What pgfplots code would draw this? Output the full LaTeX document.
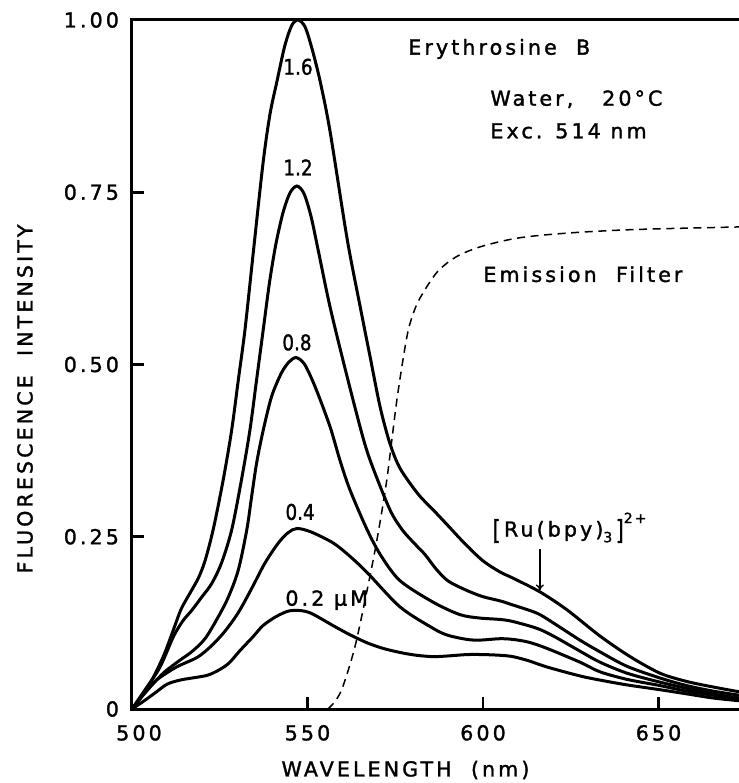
\documentclass[border=0pt]{standalone}
\usepackage{fontspec}
\setmainfont{DejaVu Sans}[LetterSpace=15, FakeBold=1.5]
\newfontfamily\numfont{DejaVu Sans}[LetterSpace=0, FakeBold=1.5]
\usepackage{pgfplots}
\pgfplotsset{compat=1.18}
\usetikzlibrary{arrows.meta}
\begin{document}
\begin{tikzpicture}[font=\fontsize{10.3pt}{12pt}\selectfont,
  clab/.style={font=\fontsize{10.8pt}{12pt}\numfont, inner sep=0pt}]
\useasboundingbox (-66pt,-37pt) rectangle (303.5pt,354.5pt);
\begin{axis}[
  at={(0,0)}, anchor=south west,
  scale only axis, width=308.9pt, height=344.5pt,
  xmin=500, xmax=676, ymin=0, ymax=1,
  axis line style={line width=1.5pt},
  tick style={line width=1.3pt, black},
  major tick length=6pt, tick align=inside, tick pos=left,
  xtick={500,550,600,650}, xticklabels={\hspace*{7pt}500,550,600,650},
  ytick={0,0.25,0.5,0.75,1}, yticklabels={0,0.25,0.50,0.75,1.00},
  yticklabel style={anchor=east, xshift=-3pt},
  xticklabel style={anchor=north, yshift=-4.5pt},
  xlabel={WAVELENGTH\ \ (nm)},
  ylabel={FLUORESCENCE\ \ INTENSITY},
  xlabel style={at={(axis description cs:0.4427,-0.0885)}, anchor=center},
  ylabel style={at={(axis description cs:-0.1732,0.45)}, anchor=center, rotate=0},
  curve/.style={black, line width=1.5pt, smooth, tension=0.5, mark=none, solid},
]
% 1.6 uM
\addplot[curve] coordinates {
(500,0) (505.1,0.037) (508.9,0.076) (511.8,0.115) (514,0.145) (516.5,0.168)
(518.9,0.190) (520.8,0.215) (523.2,0.262) (526,0.333) (528.4,0.405) (530.3,0.478)
(532.2,0.551) (534.5,0.660) (537.3,0.791) (539.3,0.863) (541.3,0.911) (543.5,0.962)
(545.5,0.992) (547.3,1.0) (549.3,0.99) (551.3,0.958) (553.6,0.911) (556.4,0.839)
(561.3,0.682) (565,0.584) (567.8,0.512) (570.7,0.438) (573.5,0.385) (576.4,0.349)
(581.5,0.312) (586,0.288) (590.6,0.263) (595,0.239) (600,0.215) (604.8,0.199)
(608.5,0.190) (616.2,0.170) (623.9,0.144) (633.3,0.106) (641.9,0.076) (650.4,0.052)
(658,0.040) (665.5,0.032) (673,0.025) (676,0.023)};
% 1.2 uM
\addplot[curve] coordinates {
(500,0) (504,0.030) (508,0.061) (511.8,0.105) (514.5,0.128) (517,0.143)
(519.8,0.162) (522.7,0.182) (525.5,0.212) (528.4,0.260) (531.2,0.333) (533.6,0.405)
(535.5,0.478) (537.4,0.551) (539.2,0.620) (541,0.675) (543,0.720) (545,0.749)
(547,0.759) (549,0.748) (551,0.715) (553,0.667) (556.4,0.584) (561,0.488)
(565.8,0.394) (568.5,0.352) (573.5,0.289) (577,0.260) (580.5,0.240) (583.5,0.224)
(586.5,0.204) (590,0.186) (595.4,0.172) (600,0.163) (604.8,0.157) (608.5,0.151)
(615.4,0.139) (620,0.125) (627.6,0.100) (633.3,0.083) (641,0.062) (650.4,0.045)
(658,0.034) (665.5,0.026) (673,0.020) (676,0.018)};
% 0.8 uM
\addplot[curve] coordinates {
(500,0) (504,0.025) (508.9,0.052) (513.7,0.071) (517,0.083) (520.8,0.102)
(524.6,0.134) (527.5,0.163) (530.3,0.202) (532.7,0.260) (534.1,0.309) (535.5,0.357)
(537.4,0.405) (539.8,0.454) (542.6,0.488) (544.8,0.504) (546.8,0.510) (549.2,0.500)
(552.3,0.466) (556.4,0.410) (559.3,0.360) (562.1,0.318) (567,0.260) (571,0.222)
(576.4,0.186) (585.8,0.155) (593.4,0.137) (599.1,0.132) (604.8,0.130) (608.5,0.127)
(615.4,0.117) (620,0.106) (627.6,0.084) (633.3,0.068) (641,0.052) (650.4,0.039)
(658,0.030) (665.5,0.022) (673,0.016) (676,0.015)};
% 0.4 uM
\addplot[curve] coordinates {
(500,0) (503,0.020) (507,0.042) (512.7,0.061) (518.6,0.075) (522.7,0.092)
(526.5,0.113) (530.3,0.140) (534.1,0.175) (537.9,0.212) (541.7,0.241) (544.5,0.256)
(547,0.262) (551,0.257) (557.3,0.241) (562,0.222) (567,0.198) (576.4,0.148)
(585.8,0.117) (590,0.107) (595.4,0.101) (599.1,0.100) (604.8,0.102) (608.5,0.101)
(613,0.097) (618.2,0.088) (627.6,0.068) (633.3,0.054) (641,0.043) (650.4,0.034)
(658,0.026) (665.5,0.020) (673,0.014) (676,0.013)};
% 0.2 uM
\addplot[curve] coordinates {
(500,0) (503.5,0.012) (507,0.025) (510,0.036) (513.7,0.042) (518.4,0.046)
(521.5,0.049) (524.2,0.055) (527.5,0.066) (530.8,0.085) (534.5,0.105) (537.3,0.121)
(541,0.134) (544.5,0.142) (547.6,0.143) (551,0.139) (557.3,0.121) (562,0.108)
(567,0.096) (571.5,0.088) (576.4,0.082) (581,0.078) (585.8,0.076) (590,0.077)
(595.4,0.079) (600,0.079) (604.8,0.078) (608.5,0.076) (613,0.070) (618.2,0.061)
(627.6,0.048) (633.3,0.042) (641,0.035) (650.4,0.028) (658,0.022) (665.5,0.016)
(673,0.012) (676,0.011)};
% emission filter
\addplot[black, line width=0.75pt, mark=none, dash pattern=on 4pt off 2.8pt, smooth] coordinates {
(555.8,0) (558,0.012) (560.1,0.033) (563.5,0.090) (567,0.173) (569.8,0.246)
(572.6,0.333) (575.5,0.450) (578.3,0.540) (580,0.572) (582,0.596) (586.9,0.634)
(592.6,0.657) (600,0.672) (610.5,0.684) (624.8,0.691) (643.9,0.696) (676,0.700)};
\node[clab] at (axis cs:547.3,0.932) {\scalebox{0.85}[1]{1.6}};
\node[clab] at (axis cs:547.3,0.786) {\scalebox{0.85}[1]{1.2}};
\node[clab] at (axis cs:547.0,0.532) {\scalebox{0.85}[1]{0.8}};
\node[clab] at (axis cs:547.9,0.286) {\scalebox{0.85}[1]{0.4}};
\node[anchor=west, inner sep=0pt] at (axis cs:543.6,0.158) {0.2 μM};
\node[anchor=west, inner sep=0pt] at (axis cs:578.6,0.958) {Erythrosine\ \ B};
\node[anchor=west, inner sep=0pt] at (axis cs:602,0.885) {Water,\ \ \ 20°C};
\node[anchor=west, inner sep=0pt] at (axis cs:602,0.839) {Exc. 514 nm};
\node[anchor=west, inner sep=0pt] at (axis cs:600,0.631) {Emission\ \ Filter};
\node[anchor=west, inner sep=0pt] at (axis cs:602.6,0.263) {\raisebox{-0.25ex}{\scalebox{1}[1.3]{[}}\,Ru(bpy)\raisebox{-0.5ex}{\fontsize{7pt}{8pt}\selectfont 3}\,\raisebox{-0.25ex}{\scalebox{1}[1.3]{]}}\raisebox{1.2ex}{\fontsize{7pt}{8pt}\selectfont 2+}};
\draw[-{To[length=3pt,width=4pt]}, line width=0.7pt] (axis cs:616.2,0.232) -- (axis cs:616.2,0.172);
\end{axis}
\end{tikzpicture}
\end{document}
